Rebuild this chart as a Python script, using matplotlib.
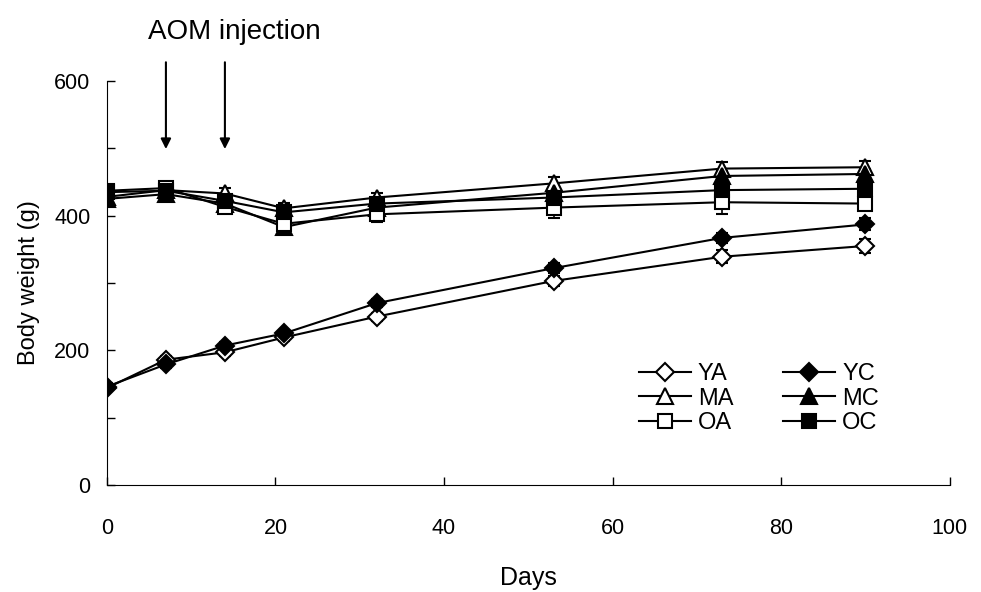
import numpy as np
import matplotlib
matplotlib.use('Agg')
import matplotlib.pyplot as plt
from matplotlib.lines import Line2D

plt.rcParams['font.family'] = ['Liberation Sans', 'DejaVu Sans']

days = [0, 7, 14, 21, 32, 53, 73, 90]

# body weight (g) per group
ya = [144, 186, 197, 219, 250, 303, 339, 355]
yc = [146, 179, 207, 225, 270, 322, 367, 387]
ma = [428, 438, 433, 411, 427, 448, 470, 472]
mc = [425, 432, 418, 383, 412, 434, 459, 462]
oa = [437, 441, 413, 388, 402, 412, 420, 418]
oc = [435, 437, 422, 405, 418, 427, 438, 440]

# error bars (SE)
ya_err = [5, 5, 5, 5, 6, 7, 10, 11]
yc_err = [5, 5, 5, 5, 6, 7, 8, 9]
ma_err = [6, 6, 8, 8, 6, 9, 10, 10]
mc_err = [6, 6, 6, 6, 6, 8, 8, 8]
oa_err = [6, 6, 8, 8, 12, 15, 18, 8]
oc_err = [6, 6, 6, 6, 6, 8, 8, 8]

series = [
    ('YA', ya, ya_err, 'D', 'white'),
    ('YC', yc, yc_err, 'D', 'black'),
    ('MA', ma, ma_err, '^', 'white'),
    ('MC', mc, mc_err, '^', 'black'),
    ('OA', oa, oa_err, 's', 'white'),
    ('OC', oc, oc_err, 's', 'black'),
]
marker_size = {'D': 9.5, '^': 11, 's': 9.5}

fig = plt.figure(figsize=(9.81, 5.92), dpi=100)
ax = fig.add_axes([0.109, 0.181, 0.859, 0.682])

handles = {}
for name, vals, err, mk, fc in series:
    ms = marker_size[mk]
    ax.errorbar(days, vals, yerr=err, marker=mk, markersize=ms,
                markerfacecolor=fc, markeredgecolor='black', markeredgewidth=1.5,
                color='black', linewidth=1.5, ecolor='black', elinewidth=1.2,
                capsize=4, capthick=1.2)
    handles[name] = Line2D([], [], color='black', linewidth=1.5, marker=mk,
                           markersize=ms, markerfacecolor=fc,
                           markeredgecolor='black', markeredgewidth=1.5)

ax.set_xlim(0, 100)
ax.set_ylim(0, 600)
ax.set_xticks(np.arange(0, 101, 20))
ax.set_yticks(np.arange(0, 601, 100))
ax.set_yticklabels(['0', '', '200', '', '400', '', '600'])
ax.tick_params(direction='in', length=6, width=1, labelsize=15.5)
ax.tick_params(axis='x', pad=24)
ax.tick_params(axis='y', pad=12)
ax.spines['top'].set_visible(False)
ax.spines['right'].set_visible(False)
ax.set_xlabel('Days', fontsize=18, labelpad=19)
ax.set_ylabel('Body weight (g)', fontsize=17, labelpad=10)

# injection arrows
for d in [7, 14]:
    ax.annotate('', xy=(d, 499), xytext=(d, 628), annotation_clip=False,
                arrowprops=dict(arrowstyle='-|>', color='black', lw=1.5,
                                mutation_scale=15, shrinkA=0, shrinkB=0))
ax.text(15.1, 673, 'AOM injection', ha='center', va='center', fontsize=20,
        clip_on=False)

# legend filled column by column
order = ['YA', 'MA', 'OA', 'YC', 'MC', 'OC']
leg = ax.legend([handles[n] for n in order], order, ncol=2, frameon=False,
                loc='lower right', bbox_to_anchor=(0.93, 0.097), fontsize=17,
                handlelength=2.2, handletextpad=0.3, columnspacing=2.1,
                labelspacing=0.1, borderpad=0)

fig.savefig('out.png', dpi=100)
